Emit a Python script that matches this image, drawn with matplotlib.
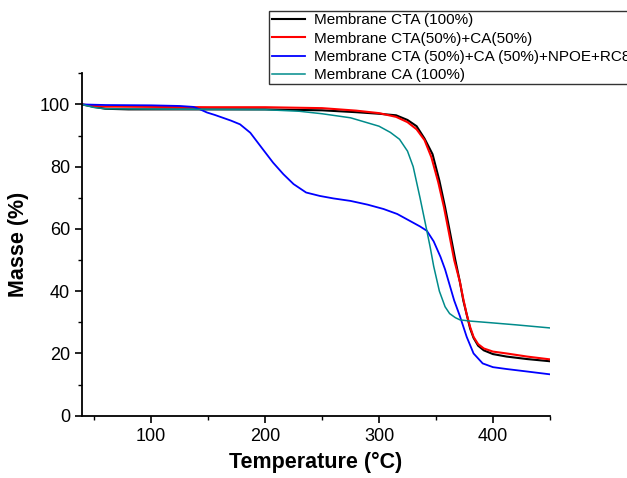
import matplotlib
matplotlib.use("Agg")
import matplotlib.pyplot as plt
from matplotlib.ticker import MultipleLocator
import numpy as np

plt.rcParams["font.family"] = ["Liberation Sans", "DejaVu Sans"]

# TGA curves (temperature in degC, mass in %)
t_cta = [39, 50, 60, 80, 100, 150, 200, 250, 280, 300, 315, 325, 333, 340, 347,
         353, 358, 362, 367, 371, 374, 377, 380, 383, 387, 392, 400, 412, 430, 450]
m_cta = [100, 99.2, 98.6, 98.4, 98.4, 98.4, 98.4, 98.1, 97.5, 97, 96.5, 95, 93, 89, 84,
         75.5, 67, 59.5, 50, 43, 37, 32.5, 28, 25, 22.5, 21, 19.8, 19, 18.2, 17.5]

t_mix = [39, 50, 60, 100, 150, 200, 250, 280, 300, 315, 325, 333, 340, 346, 352,
         357, 361, 366, 371, 374, 377, 380, 383, 387, 392, 400, 412, 430, 450]
m_mix = [100, 99.5, 99.3, 99.2, 99.1, 99.1, 98.8, 98, 97.2, 96, 94.3, 92, 88.5, 83, 75,
         67, 59.5, 50, 43, 37.5, 32.5, 28.5, 25.3, 23, 21.6, 20.6, 20, 19, 18.1]

t_npoe = [39, 60, 100, 125, 137, 143, 149, 156, 163, 170, 178, 187, 198, 207, 216, 225,
          236, 248, 260, 275, 290, 304, 316, 327, 336, 342, 348, 354, 358, 362, 366,
          371, 377, 383, 391, 400, 412, 430, 450]
m_npoe = [100, 99.8, 99.7, 99.5, 99.2, 98.4, 97.4, 96.6, 95.7, 94.8, 93.6, 90.9, 85.6,
          81.3, 77.6, 74.4, 71.7, 70.6, 69.8, 69, 67.8, 66.4, 64.8, 62.6, 60.8, 59.4, 56,
          51, 47, 42, 37, 32, 25.3, 20, 16.8, 15.6, 15, 14.2, 13.3]

t_ca = [39, 50, 60, 100, 150, 200, 230, 250, 275, 300, 310, 318, 325, 330, 336, 342,
        345, 348, 353, 358, 362, 367, 371, 380, 397, 420, 450]
m_ca = [100, 99, 98.6, 98.5, 98.4, 98.3, 97.8, 97, 95.7, 93, 91, 88.8, 85, 80, 70, 59.4,
        54, 48, 40, 35, 32.8, 31.5, 30.8, 30.4, 29.9, 29.2, 28.2]

labels = ["Membrane CTA (100%)",
          "Membrane CTA(50%)+CA(50%)",
          "Membrane CTA (50%)+CA (50%)+NPOE+RC8",
          "Membrane CA (100%)"]
colors = ["black", "#ff0000", "#0000ff", "#008b8b"]

fig = plt.figure(figsize=(6.27, 4.78), dpi=100)
ax = fig.add_axes([0.1303, 0.1303, 0.877 - 0.1303, 0.8467 - 0.1303])

series = [(t_cta, m_cta), (t_mix, m_mix), (t_npoe, m_npoe), (t_ca, m_ca)]
widths = [1.5, 1.5, 1.3, 1.1]
for (t, m), lab, c, lw in zip(series, labels, colors, widths):
    ax.plot(t, m, color=c, lw=lw, label=lab)

ax.set_xlim(39, 450)
ax.set_ylim(0, 110)
ax.xaxis.set_major_locator(MultipleLocator(100))
ax.xaxis.set_minor_locator(MultipleLocator(50))
ax.yaxis.set_major_locator(MultipleLocator(20))
ax.yaxis.set_minor_locator(MultipleLocator(10))
ax.tick_params(which="major", direction="out", length=5, width=1.2, labelsize=13)
ax.tick_params(which="minor", direction="out", length=3, width=1.0)
for side in ["top", "right"]:
    ax.spines[side].set_visible(False)
for side in ["left", "bottom"]:
    ax.spines[side].set_linewidth(1.3)

ax.set_xlabel("Temperature (°C)", fontsize=15.5, fontweight="bold", labelpad=5)
ax.set_ylabel("Masse (%)", fontsize=15.5, fontweight="bold", labelpad=8)

# legend box runs past the right edge of the figure, as in the original
leg = fig.legend(loc="upper left", bbox_to_anchor=(269.3 / 627, 1 - 11 / 478),
                 fontsize=11, frameon=True, fancybox=False, edgecolor="black",
                 handlelength=2.2, handletextpad=0.55, labelspacing=0.28,
                 borderpad=0.15, borderaxespad=0)
leg.get_frame().set_linewidth(1.0)

fig.savefig("out.png", dpi=100)
